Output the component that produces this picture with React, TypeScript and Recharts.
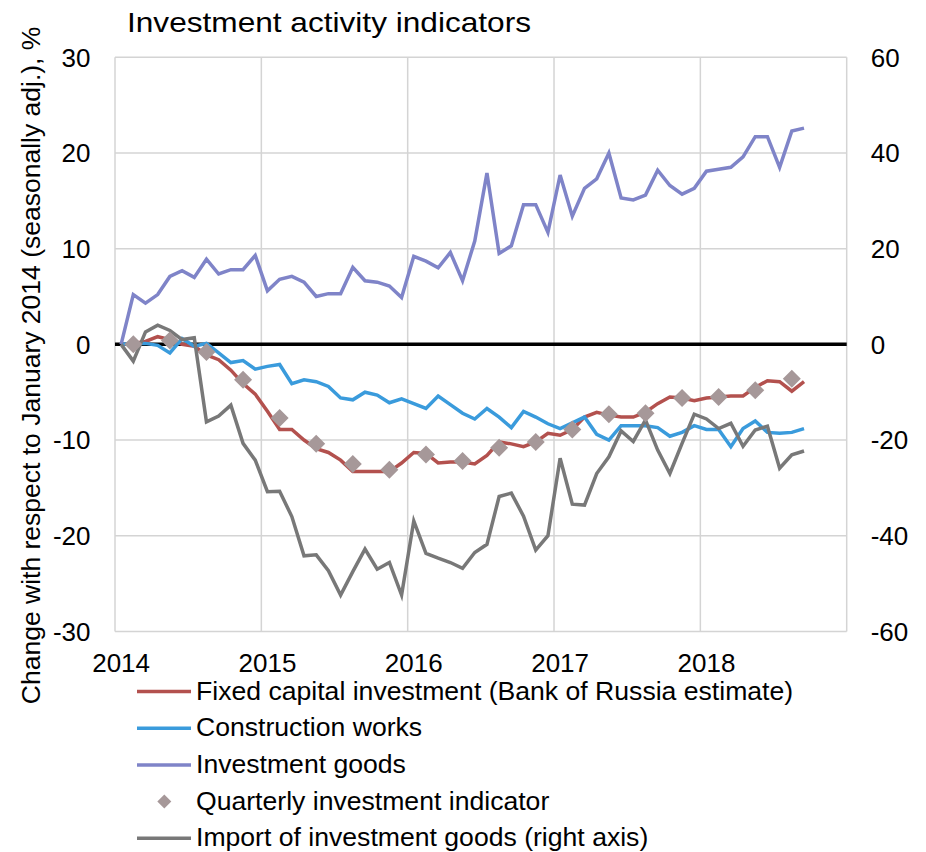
import React from 'react';
import {
  ComposedChart,
  Line,
  Scatter,
  XAxis,
  YAxis,
  CartesianGrid,
  ReferenceLine,
} from 'recharts';

// monthly values, Jan 2014 .. Sep 2018 (index 0..56)
const fixedCapital = [
  0, 0.1, 0.3, 0.8, 0.5, 0.0, -0.2, -1.1, -1.6, -2.7, -4.1, -5.2,
  -7.0, -8.9, -8.9, -10.0, -10.9, -11.3, -12.1, -13.3, -13.3, -13.3, -13.3, -12.4,
  -11.3, -11.4, -12.4, -12.3, -12.3, -12.5, -11.6, -10.2, -10.4, -10.7, -10.2, -9.3,
  -9.5, -8.9, -7.6, -7.1, -7.4, -7.6, -7.6, -7.1, -6.2, -5.5, -5.6, -5.9,
  -5.6, -5.5, -5.4, -5.4, -4.5, -3.8, -3.9, -4.9, -3.9,
];

const construction = [
  0, 0.1, 0.1, -0.1, -0.9, 0.6, -0.2, 0.1, -0.9, -1.9, -1.7, -2.6,
  -2.3, -2.1, -4.1, -3.7, -3.9, -4.4, -5.6, -5.8, -5.0, -5.3, -6.1, -5.7,
  -6.2, -6.7, -5.4, -6.3, -7.2, -7.8, -6.7, -7.6, -8.7, -7.0, -7.6, -8.3,
  -8.8, -8.2, -7.6, -9.4, -10.0, -8.5, -8.5, -8.5, -8.7, -9.6, -9.2, -8.5,
  -8.9, -8.9, -10.7, -8.8, -8.0, -9.2, -9.3, -9.2, -8.8,
];

const investmentGoods = [
  0, 5.2, 4.3, 5.2, 7.1, 7.7, 7.0, 8.9, 7.35, 7.8, 7.8, 9.3,
  5.6, 6.8, 7.1, 6.5, 5.0, 5.3, 5.3, 8.05, 6.65, 6.5, 6.1, 4.9,
  9.2, 8.7, 8.0, 9.6, 6.65, 10.8, 17.9, 9.5, 10.3, 14.6, 14.6, 11.7,
  17.7, 13.4, 16.3, 17.3, 20.0, 15.3, 15.1, 15.6, 18.2, 16.6, 15.7, 16.3,
  18.1, 18.3, 18.5, 19.6, 21.7, 21.7, 18.5, 22.3, 22.6,
];

// right axis
const importGoods = [
  0, -3.5, 2.6, 4.0, 2.9, 1.0, 1.4, -16.2, -15.0, -12.7, -20.7, -24.2,
  -30.8, -30.7, -36.0, -44.2, -44.0, -47.3, -52.4, -47.5, -42.8, -47.0, -45.6, -52.4,
  -36.9, -43.7, -44.7, -45.6, -46.8, -43.5, -41.8, -31.8, -31.1, -35.9, -43.0, -40.0,
  -23.8, -33.4, -33.6, -27.0, -23.5, -18.1, -20.3, -15.8, -22.1, -27.0, -20.7, -14.6,
  -15.6, -17.6, -16.5, -21.3, -17.9, -17.1, -25.9, -23.1, -22.3,
];

// quarterly indicator, plotted at the middle month of each quarter
const quarterly = [
  0, 0.4, -0.8, -3.7, -7.7, -10.4, -12.5, -13.1, -11.5, -12.2,
  -10.8, -10.2, -8.9, -7.3, -7.2, -5.6, -5.5, -4.8, -3.6,
];

const yearLabels = ['2014', '2015', '2016', '2017', '2018'];
const leftTicks = [-30, -20, -10, 0, 10, 20, 30];
const rightTicks = [-60, -40, -20, 0, 20, 40, 60];

const RED = '#b3514e';
const BLUE = '#3a9bdc';
const PURPLE = '#7f84c8';
const DIAMOND = '#a69899';
const GRAY = '#787878';
const GRID = '#d4d4d4';
const FONT = '"Liberation Sans", Arial, sans-serif';

const rows = fixedCapital.map((v, i) => ({
  x: i,
  fixed: v,
  construction: construction[i],
  goods: investmentGoods[i],
  imports: importGoods[i],
}));

const quarterRows = quarterly.map((v, k) => ({ x: 1 + k * 3, q: v }));

const legendItems = [
  { label: 'Fixed capital investment (Bank of Russia estimate)', color: RED, kind: 'line' },
  { label: 'Construction works', color: BLUE, kind: 'line' },
  { label: 'Investment goods', color: PURPLE, kind: 'line' },
  { label: 'Quarterly investment indicator', color: DIAMOND, kind: 'diamond' },
  { label: 'Import of investment goods (right axis)', color: GRAY, kind: 'line' },
];

function Diamond(props: any) {
  const { cx, cy } = props;
  if (cx == null || cy == null) return null;
  const r = 9;
  return (
    <polygon
      points={`${cx},${cy - r} ${cx + r},${cy} ${cx},${cy + r} ${cx - r},${cy}`}
      fill={DIAMOND}
    />
  );
}

export default function App() {
  const tick = { fill: '#000', fontSize: 26, fontFamily: FONT };
  return (
    <div
      style={{
        position: 'absolute',
        left: 0,
        top: 0,
        width: 926,
        height: 852,
        background: '#fff',
        fontFamily: FONT,
      }}
    >
      <ComposedChart
        width={926}
        height={852}
        data={rows}
        margin={{ top: 57.3, right: 0, left: 0, bottom: 180.6 }}
      >
        <CartesianGrid vertical={false} stroke={GRID} strokeWidth={1.5} yAxisId="left" />
        {[-0.5, 11.5, 23.5, 35.5, 47.5, 59.5].map((v) => (
          <ReferenceLine key={v} x={v} yAxisId="left" stroke={GRID} strokeWidth={1.5} />
        ))}
        <XAxis
          type="number"
          dataKey="x"
          domain={[-0.5, 59.5]}
          ticks={[0, 12, 24, 36, 48]}
          tickFormatter={(v: number) => yearLabels[Math.round(v / 12)]}
          axisLine={false}
          tickLine={false}
          tickSize={0}
          tickMargin={22}
          height={40}
          tick={tick}
          interval={0}
        />
        <YAxis
          yAxisId="left"
          domain={[-30, 30]}
          ticks={leftTicks}
          axisLine={false}
          tickLine={false}
          tickSize={0}
          tickMargin={24.5}
          width={115}
          tick={tick}
          interval={0}
        />
        <YAxis
          yAxisId="right"
          orientation="right"
          domain={[-60, 60]}
          ticks={rightTicks}
          axisLine={false}
          tickLine={false}
          tickSize={0}
          tickMargin={24}
          width={79.3}
          tick={tick}
          interval={0}
        />
        <ReferenceLine y={0} yAxisId="left" stroke="#000" strokeWidth={3.5} />
        <Line yAxisId="left" dataKey="fixed" stroke={RED} strokeWidth={3.5} dot={false} activeDot={false} isAnimationActive={false} />
        <Line yAxisId="left" dataKey="construction" stroke={BLUE} strokeWidth={3.5} dot={false} activeDot={false} isAnimationActive={false} />
        <Line yAxisId="left" dataKey="goods" stroke={PURPLE} strokeWidth={3.5} dot={false} activeDot={false} isAnimationActive={false} />
        <Line yAxisId="right" dataKey="imports" stroke={GRAY} strokeWidth={3.5} dot={false} activeDot={false} isAnimationActive={false} />
        <Scatter yAxisId="left" data={quarterRows} dataKey="q" shape={<Diamond />} isAnimationActive={false} />
      </ComposedChart>

      <svg
        width={926}
        height={852}
        style={{ position: 'absolute', left: 0, top: 0, pointerEvents: 'none' }}
      >
        <text
          x={127}
          y={32.3}
          fontSize={28.5}
          fontFamily={FONT}
          fill="#000"
          textLength={404}
          lengthAdjust="spacingAndGlyphs"
        >
          Investment activity indicators
        </text>
        <text
          transform="translate(40,365.4) rotate(-90)"
          textAnchor="middle"
          fontSize={26.5}
          fontFamily={FONT}
          fill="#000"
        >
          Change with respect to January 2014 (seasonally adj.), %
        </text>
        {legendItems.map((item, k) => {
          const y = 691.5 + k * 36.7;
          return (
            <g key={item.label}>
              {item.kind === 'line' ? (
                <line x1={137} x2={191} y1={y} y2={y} stroke={item.color} strokeWidth={3.5} />
              ) : (
                <polygon
                  points={`164.3,${y - 7} 171.3,${y} 164.3,${y + 7} 157.3,${y}`}
                  fill={item.color}
                />
              )}
              <text x={196} y={y + 8} fontSize={26.6} fontFamily={FONT} fill="#000">
                {item.label}
              </text>
            </g>
          );
        })}
      </svg>
    </div>
  );
}
